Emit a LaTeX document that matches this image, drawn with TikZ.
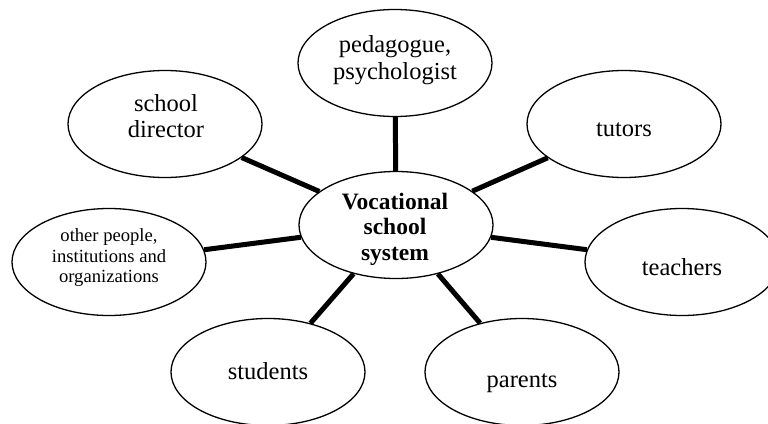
\documentclass[tikz,border=0pt]{standalone}
\usepackage{fontspec}
\setmainfont{Liberation Serif}
\usetikzlibrary{shapes.geometric}
\tikzset{
  oval/.style={draw=black, line width=1.3pt, ellipse, inner sep=0pt,
    minimum width=194pt, minimum height=107pt},
  conn/.style={draw=black, line width=5pt},
  lbl/.style={align=center, inner sep=0pt, font=\fontsize{24.5}{26.5}\selectfont},
  smalllbl/.style={align=center, inner sep=0pt, font=\fontsize{18.6}{20.5}\selectfont},
  boldlbl/.style={align=center, inner sep=0pt, font=\bfseries\fontsize{23.5}{25.5}\selectfont}
}
\begin{document}
\begin{tikzpicture}[x=1pt, y=-1pt]
\useasboundingbox (0,0) rectangle (768,423);
% ellipses
\node[oval] (center) at (396,225) {};
\node[oval] (ped) at (395,63) {};
\node[oval] (dir) at (165,124) {};
\node[oval] (other) at (109,262) {};
\node[oval] (tut) at (624,124) {};
\node[oval] (tea) at (682,262) {};
\node[oval] (stu) at (268,372) {};
\node[oval] (par) at (522,372) {};
% texts
\node[boldlbl] (tcenter) at (395,229) {Vocational\\school\\system};
\node[lbl] (tped) at (395,60) {pedagogue,\\psychologist};
\node[lbl] (tdir) at (166,116) {school\\director};
\node[smalllbl] (tother) at (109,258) {other people,\\institutions and\\organizations};
\node[lbl] (ttut) at (624,130) {tutors};
\node[lbl] (ttea) at (682,267) {teachers};
\node[lbl] (tstu) at (268,371) {students};
\node[lbl] (tpar) at (522,383) {parents};
% connectors
\draw[conn] (center) -- (ped);
\draw[conn] (center) -- (dir);
\draw[conn] (center) -- (other);
\draw[conn] (center) -- (tut);
\draw[conn] (center) -- (tea);
\draw[conn] (center) -- (stu);
\draw[conn] (center) -- (par);
\end{tikzpicture}
\end{document}
